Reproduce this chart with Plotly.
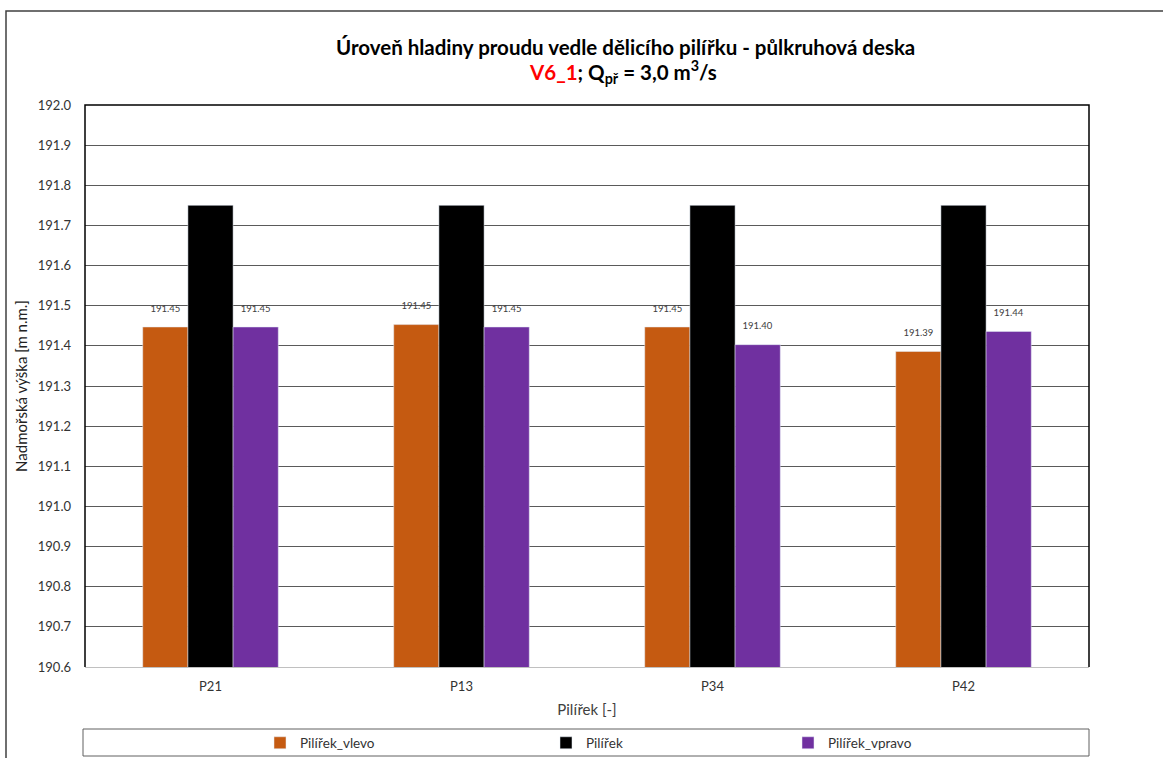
import plotly.graph_objects as go

categories = ["P21", "P13", "P34", "P42"]
vlevo = [191.447, 191.453, 191.447, 191.386]
pilirek = [191.75, 191.75, 191.75, 191.75]
vpravo = [191.447, 191.447, 191.403, 191.436]
series_names = ["Pilířek_vlevo", "Pilířek", "Pilířek_vpravo"]
y_ticks = [190.6, 190.7, 190.8, 190.9, 191.0, 191.1, 191.2, 191.3, 191.4, 191.5, 191.6, 191.7, 191.8, 191.9, 192.0]

W, H = 1163, 758
L, R, T, B = 85, 1089, 105, 667
def px(x):
    return (x - L) / (R - L)
def py(y):
    return (B - y) / (B - T)

FONT = "Lato"
LBL = "%{y:.2f}<br><span style='font-size:2px'>&nbsp;</span>"
fig = go.Figure()
fig.add_trace(go.Bar(x=categories, y=vlevo, name=series_names[0], marker_color="#C55A11",
                     texttemplate=LBL, textposition="outside", legend="legend",
                     textfont=dict(size=9.5, color="#404040"), cliponaxis=False))
fig.add_trace(go.Bar(x=categories, y=pilirek, name=series_names[1], marker_color="#000000",
                     legend="legend2"))
fig.add_trace(go.Bar(x=categories, y=vpravo, name=series_names[2], marker_color="#7030A0",
                     texttemplate=LBL, textposition="outside", legend="legend3",
                     textfont=dict(size=9.5, color="#404040"), cliponaxis=False))

def leg(xpix):
    return dict(orientation="h", xref="container", yref="container",
                x=(xpix - 20) / W, xanchor="left", y=1 - 743 / H, yanchor="middle",
                font=dict(size=13.5, color="#333333"), itemwidth=30,
                bgcolor="rgba(0,0,0,0)", borderwidth=0)

fig.update_layout(
    width=W, height=H,
    margin=dict(l=L, r=W - R, t=T, b=H - B),
    paper_bgcolor="white", plot_bgcolor="white",
    font=dict(family=FONT, color="#333333", size=12),
    barmode="group", bargap=0.46, bargroupgap=0,
    showlegend=True,
    legend=leg(280), legend2=leg(566), legend3=leg(808),
    xaxis=dict(showgrid=False, showline=True, linecolor="#c0c0c0", linewidth=1,
               ticks="", tickfont=dict(size=13, color="#333333"), ticklabelstandoff=7,
               title=dict(text="Pilířek [-]", font=dict(size=15, color="#404040"), standoff=11)),
    yaxis=dict(range=[190.6, 192.0], tickvals=y_ticks, ticktext=[f"{v:.1f}" for v in y_ticks],
               showgrid=True, gridcolor="#5a5a5a", gridwidth=1, zeroline=False,
               showline=False, ticks="", tickfont=dict(size=13, color="#333333"), ticklabelstandoff=13,
               title=dict(text="Nadmořská výška [m n.m.]", font=dict(size=15, color="#222222"), standoff=6)),
    annotations=[
        dict(text="<b>Úroveň hladiny proudu vedle dělicího pilířku - půlkruhová deska</b>",
             xref="paper", yref="paper", x=px(625), y=py(47), xanchor="center", yanchor="middle",
             showarrow=False, font=dict(size=20.5, color="#000000", family=FONT)),
        dict(text="<b><span style='color:#FF0000'>V6_1</span>; Q<sub>př</sub> = 3,0 m<sup>3</sup>/s</b>",
             xref="paper", yref="paper", x=px(623), y=py(72), xanchor="center", yanchor="middle",
             showarrow=False, font=dict(size=20.5, color="#000000", family=FONT)),
    ],
    shapes=[
        dict(type="path", xref="paper", yref="paper",
             path="M 0 0 L 0 1 L 1 1 L 1 0", line=dict(color="#000000", width=1.5), layer="above"),
        dict(type="rect", xref="paper", yref="paper", x0=px(6), x1=px(1175), y0=py(775), y1=py(11),
             line=dict(color="#404040", width=1.5), fillcolor="rgba(0,0,0,0)"),
        dict(type="rect", xref="paper", yref="paper", x0=px(83), x1=px(1089), y0=py(756), y1=py(729),
             line=dict(color="#606060", width=1), fillcolor="rgba(0,0,0,0)"),
    ],
)

fig.write_html("out.html", config={"displayModeBar": False},
               post_script="document.body.style.margin='0';document.body.style.overflow='hidden';")
